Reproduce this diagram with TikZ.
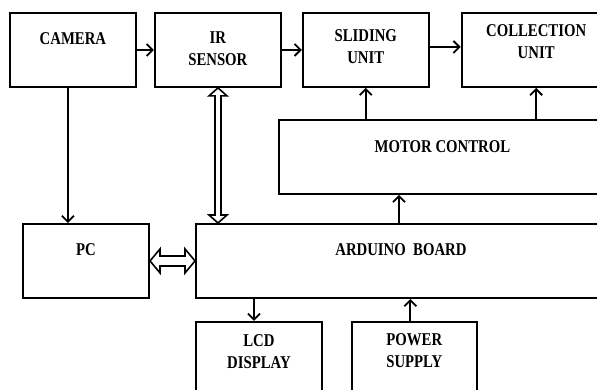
\documentclass[tikz,border=0pt]{standalone}
\usepackage{fontspec}
\setmainfont{Liberation Serif}[FakeStretch=0.82]
\usetikzlibrary{arrows.meta,positioning}

\begin{document}
\begin{tikzpicture}[x=1pt, y=-1pt,
      blk/.style={draw, line width=1.9pt, minimum width=126pt, minimum height=74pt, inner sep=0pt},
      txt/.style={font=\fontsize{18}{22}\selectfont\bfseries, align=center, inner sep=0pt, anchor=north},
      arr/.style={-{Straight Barb[length=6pt, width=12pt]}, line width=1.8pt},
      hol/.style={line width=1.6pt, line join=miter}]
    \path[use as bounding box, clip] (0,0) rectangle (597,390);
    % top row
    \node[blk, anchor=north west, label={[txt, yshift=-20pt]north:CAMERA}] (cam) at (9,12) {};
    \node[blk, right=17pt of cam, label={[txt, yshift=-20pt]north:{IR\\SENSOR}}] (ir) {};
    \node[blk, right=20pt of ir, label={[txt, yshift=-17pt]north:{SLIDING\\UNIT}}] (sld) {};
    \node[blk, minimum width=149pt, right=31pt of sld, label={[txt, yshift=-12pt]north:{COLLECTION\\UNIT}}] (col) {};
    % middle
    \node[blk, anchor=north west, minimum width=327pt, label={[txt, yshift=-21pt]north:MOTOR CONTROL}] (mot) at (278,119) {};
    \node[blk, anchor=north west, minimum width=410pt, label={[txt, yshift=-20pt]north:ARDUINO\ \ BOARD}] (ard) at (195,223) {};
    \node[blk, left=45pt of ard, label={[txt, yshift=-20pt]north:PC}] (pc) {};
    % bottom row
    \node[blk, below=22pt of ard.south west, anchor=north west, label={[txt, yshift=-13pt]north:{LCD\\DISPLAY}}] (lcd) {};
    \node[blk, minimum width=125pt, right=28pt of lcd, label={[txt, yshift=-12pt]north:{POWER\\SUPPLY}}] (pwr) {};
    % connectors
    \draw[arr] (cam) -- (ir);
    \draw[arr] (ir) -- (sld);
    \draw[arr] ([yshift=3pt]sld.east) -- ([yshift=3pt]sld.east -| col.west);
    \draw[arr] ([xshift=-5pt]cam.south) -- ([xshift=-5pt]cam.south |- pc.north);
    \draw[arr] (sld.south |- mot.north) -- (sld.south);
    \draw[arr] (col.south |- mot.north) -- (col.south);
    \draw[arr] ([xshift=-2pt]ard.north) -- ([xshift=-2pt]ard.north |- mot.south);
    \draw[arr] ([xshift=-5pt]lcd.north |- ard.south) -- ([xshift=-5pt]lcd.north);
    \draw[arr] ([xshift=-4pt]pwr.north) -- ([xshift=-4pt]pwr.north |- ard.south);
    % hollow two-way arrows
    \coordinate (busA) at ([xshift=23pt]ard.north west);
    \coordinate (busB) at (busA |- ir.south);
    \draw[hol] (busA) -- ++(-9,-8) -- ++(6,0) -- ([shift={(-3,8)}]busB) -- ++(-6,0) -- (busB)
      -- ++(9,8) -- ++(-6,0) -- ([shift={(3,-8)}]busA) -- ++(6,0) -- cycle;
    \draw[hol] (pc.east) -- ++(10,-12) -- ++(0,7) -- ([shift={(-10,-5)}]pc.east -| ard.west) -- ++(0,-7)
      -- (pc.east -| ard.west) -- ++(-10,12) -- ++(0,-7) -- ([shift={(10,5)}]pc.east) -- ++(0,7) -- cycle;
\end{tikzpicture}
\end{document}
